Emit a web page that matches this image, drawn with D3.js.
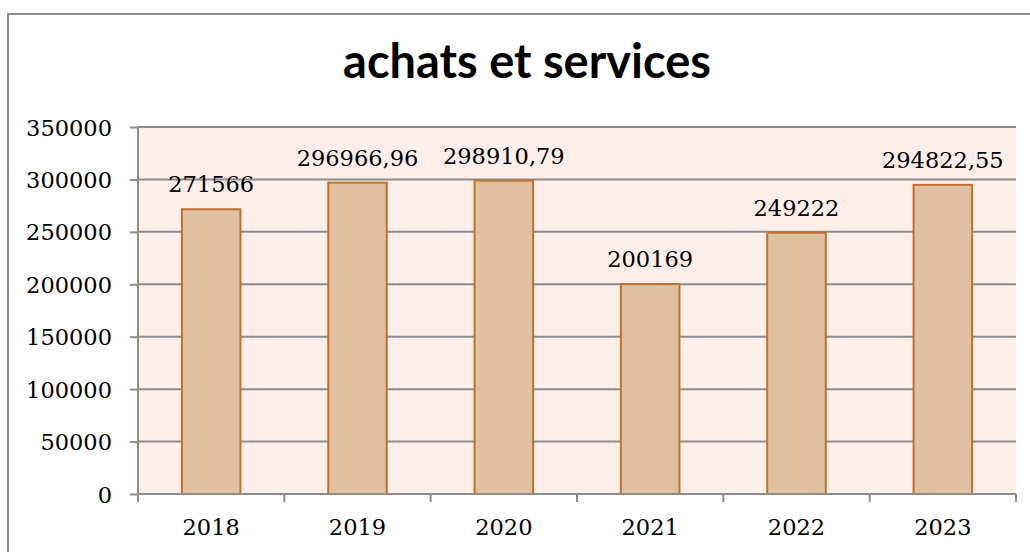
<!DOCTYPE html>
<html>
<head>
<meta charset="utf-8">
<script src="https://cdn.jsdelivr.net/npm/d3@7"></script>
<style>
  html, body { margin: 0; padding: 0; background: #fff; }
  svg { display: block; }
</style>
</head>
<body>
<script>
// chart data
const years = [ "2018", "2019", "2020", "2021", "2022", "2023" ];
const values = [ 271566, 296966.96, 298910.79, 200169, 249222, 294822.55 ];
const valueLabels = [ "271566", "296966,96", "298910,79", "200169", "249222", "294822,55" ];
const yTicks = [ 0, 50000, 100000, 150000, 200000, 250000, 300000, 350000 ];
const title = "achats et services";

const width = 1030, height = 552;
const plot = { left: 138, right: 1016, top: 127, bottom: 494 };

const svg = d3.select( "body" ).append( "svg" )
	.attr( "width", width )
	.attr( "height", height );

// outer frame
svg.append( "rect" )
	.attr( "x", 8 ).attr( "y", 14 )
	.attr( "width", width + 20 ).attr( "height", height + 20 )
	.attr( "fill", "#fff" )
	.attr( "stroke", "#8a8a8a" )
	.attr( "stroke-width", 2 );

svg.append( "text" )
	.attr( "x", 527 ).attr( "y", 78 )
	.attr( "text-anchor", "middle" )
	.style( "font-family", "Lato, 'Open Sans', sans-serif" )
	.style( "font-weight", "bold" )
	.style( "font-size", "47px" )
	.attr( "fill", "#000" )
	.text( title );

const xScale = d3.scaleBand()
	.domain( years )
	.range( [ plot.left, plot.right ] )
	.paddingInner( 0.6 )
	.paddingOuter( 0.3 );

const yScale = d3.scaleLinear()
	.domain( [ 0, 350000 ] )
	.range( [ plot.bottom, plot.top ] );

svg.append( "rect" )
	.attr( "x", plot.left ).attr( "y", plot.top )
	.attr( "width", plot.right - plot.left )
	.attr( "height", plot.bottom - plot.top )
	.attr( "fill", "#fdeee9" );

// gridlines
svg.append( "g" )
	.selectAll( "line" )
	.data( yTicks.filter( d => d > 0 ) )
	.enter()
	.append( "line" )
	.attr( "x1", plot.left ).attr( "x2", plot.right )
	.attr( "y1", d => yScale( d ) ).attr( "y2", d => yScale( d ) )
	.attr( "stroke", "#8c8c8c" )
	.attr( "stroke-width", 2 );

// y axis
const yAxis = svg.append( "g" )
	.attr( "transform", `translate(${ plot.left }, 0)` )
	.call( d3.axisLeft( yScale ).tickValues( yTicks ).tickSize( 8 ).tickPadding( 18 ).tickFormat( d3.format( "d" ) ) );
yAxis.select( ".domain" ).attr( "stroke", "#8c8c8c" ).attr( "stroke-width", 2 ).attr( "d", `M0,${ plot.top }V${ plot.bottom }` );
yAxis.selectAll( ".tick line" ).attr( "stroke", "#8c8c8c" ).attr( "stroke-width", 2 );
yAxis.selectAll( "text" )
	.attr( "fill", "#000" )
	.attr( "dy", "0.36em" )
	.style( "font-family", "'DejaVu Serif', serif" )
	.style( "font-size", "22.5px" );

// bars
svg.append( "g" )
	.selectAll( "rect" )
	.data( values )
	.enter()
	.append( "rect" )
	.attr( "x", ( d, i ) => xScale( years[ i ] ) )
	.attr( "y", d => yScale( d ) )
	.attr( "width", xScale.bandwidth() )
	.attr( "height", d => plot.bottom - yScale( d ) )
	.attr( "fill", "#dfc0a0" )
	.attr( "stroke", "#c0712f" )
	.attr( "stroke-width", 2 );

// value labels
svg.append( "g" )
	.selectAll( "text" )
	.data( values )
	.enter()
	.append( "text" )
	.attr( "x", ( d, i ) => xScale( years[ i ] ) + xScale.bandwidth() / 2 )
	.attr( "y", d => yScale( d ) - 17 )
	.attr( "text-anchor", "middle" )
	.style( "font-family", "'DejaVu Serif', serif" )
	.style( "font-size", "22.5px" )
	.attr( "fill", "#000" )
	.text( ( d, i ) => valueLabels[ i ] );

// x axis
const xPos = d3.scalePoint().domain( d3.range( years.length + 1 ) ).range( [ plot.left, plot.right ] );
const xAxis = svg.append( "g" )
	.attr( "transform", `translate(0, ${ plot.bottom })` );
xAxis.append( "line" )
	.attr( "x1", plot.left ).attr( "x2", plot.right )
	.attr( "stroke", "#8c8c8c" ).attr( "stroke-width", 2 );
xAxis.selectAll( ".tk" )
	.data( d3.range( years.length + 1 ) )
	.enter()
	.append( "line" )
	.attr( "x1", d => xPos( d ) ).attr( "x2", d => xPos( d ) )
	.attr( "y1", 0 ).attr( "y2", 8 )
	.attr( "stroke", "#8c8c8c" ).attr( "stroke-width", 2 );
xAxis.selectAll( "text" )
	.data( years )
	.enter()
	.append( "text" )
	.attr( "x", d => xScale( d ) + xScale.bandwidth() / 2 )
	.attr( "y", 41 )
	.attr( "text-anchor", "middle" )
	.style( "font-family", "'DejaVu Serif', serif" )
	.style( "font-size", "22.5px" )
	.attr( "fill", "#000" )
	.text( d => d );
</script>
</body>
</html>
